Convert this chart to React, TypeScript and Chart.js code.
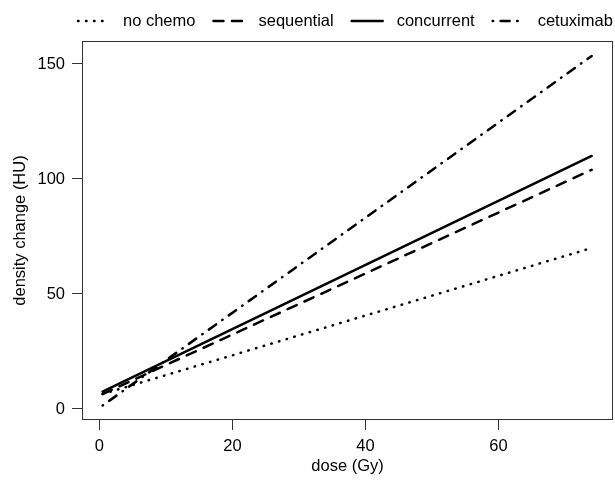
import React, { useEffect, useRef } from 'react';
import { Chart, registerables } from 'chart.js';

Chart.register(...registerables);

// ---- data ----
const dose = [0.5, 74];
const noChemo = [6.5, 70];
const sequential = [6.5, 104];
const concurrent = [7.5, 110];
const cetuximab = [1.5, 153.5];
const seriesNames = ['no chemo', 'sequential', 'concurrent', 'cetuximab'];
const xTicks = [0, 20, 40, 60];
const yTicks = [0, 50, 100, 150];

const FONT = '"Liberation Sans", Arial, Helvetica, sans-serif';
const FONT_SIZE = 16.5;

const toPoints = (ys: number[]) => ys.map((y, i) => ({ x: dose[i], y }));

const boxPlugin = {
  id: 'rbox',
  afterDraw(chart: any) {
    const { ctx, chartArea: a } = chart;
    ctx.save();
    ctx.strokeStyle = '#333';
    ctx.lineWidth = 1;
    ctx.setLineDash([]);
    const l = Math.round(a.left) + 0.5;
    const t = Math.round(a.top) + 0.5;
    const r = Math.round(a.right) - 0.5;
    const b = Math.round(a.bottom) - 0.5;
    ctx.strokeRect(l, t, r - l, b - t);
    ctx.restore();
  },
};

const legendPlugin = {
  id: 'rlegend',
  afterDraw(chart: any, _args: any, opts: any) {
    const ctx = chart.ctx;
    ctx.save();
    ctx.font = `${FONT_SIZE}px ${FONT}`;
    ctx.textBaseline = 'middle';
    ctx.textAlign = 'left';
    ctx.fillStyle = '#000';
    let x = opts.x;
    const y = opts.y;
    chart.data.datasets.forEach((ds: any) => {
      ctx.beginPath();
      ctx.setLineDash(ds.borderDash || []);
      ctx.lineWidth = ds.borderWidth;
      ctx.lineCap = ds.borderCapStyle || 'butt';
      ctx.strokeStyle = ds.borderColor;
      ctx.moveTo(x + 1, y);
      ctx.lineTo(x + opts.sampleWidth - 1, y);
      ctx.stroke();
      ctx.setLineDash([]);
      x += opts.sampleWidth + opts.textGap;
      ctx.fillText(ds.label, x, y);
      x += ctx.measureText(ds.label).width + opts.itemGap;
    });
    ctx.restore();
  },
};

export default function App() {
  const ref = useRef<HTMLCanvasElement | null>(null);

  useEffect(() => {
    if (!ref.current) return;
    const lineBase = {
      borderColor: '#000',
      borderWidth: 2.5,
      borderCapStyle: 'round',
      pointRadius: 0,
      pointHoverRadius: 0,
      fill: false,
      tension: 0,
    };
    const chart = new Chart(ref.current, {
      type: 'line',
      data: {
        datasets: [
          { ...lineBase, label: seriesNames[0], data: toPoints(noChemo), borderDash: [0.5, 7.5] },
          { ...lineBase, label: seriesNames[1], data: toPoints(sequential), borderDash: [10, 8.5] },
          { ...lineBase, label: seriesNames[2], data: toPoints(concurrent), borderDash: [] },
          { ...lineBase, label: seriesNames[3], data: toPoints(cetuximab), borderDash: [0.5, 7.5, 9, 7.5] },
        ] as any,
      },
      options: {
        animation: false,
        responsive: false,
        maintainAspectRatio: false,
        layout: { padding: { left: 0, top: 41, right: 2, bottom: 0 } },
        plugins: {
          legend: { display: false },
          tooltip: { enabled: false },
          rlegend: { x: 77, y: 21, sampleWidth: 33, textGap: 13, itemGap: 17 },
        } as any,
        scales: {
          x: {
            type: 'linear',
            min: -2.6,
            max: 77.2,
            afterBuildTicks: (s: any) => { s.ticks = xTicks.map((v) => ({ value: v })); },
            afterFit: (s: any) => { s.height = 67; },
            grid: { drawOnChartArea: false, drawTicks: true, tickLength: 10, color: '#333', lineWidth: 1 },
            border: { display: false },
            ticks: { color: '#000', padding: 7, maxRotation: 0, font: { family: FONT, size: FONT_SIZE } },
            title: {
              display: true,
              text: 'dose (Gy)',
              color: '#000',
              font: { family: FONT, size: FONT_SIZE },
              padding: { top: 0, bottom: 11 },
            },
          },
          y: {
            type: 'linear',
            min: -4.8,
            max: 160,
            afterBuildTicks: (s: any) => { s.ticks = yTicks.map((v) => ({ value: v })); },
            afterFit: (s: any) => { s.width = 82; },
            grid: { drawOnChartArea: false, drawTicks: true, tickLength: 10, color: '#333', lineWidth: 1 },
            border: { display: false },
            ticks: { color: '#000', padding: 7, font: { family: FONT, size: FONT_SIZE } },
            title: {
              display: true,
              text: 'density change (HU)',
              color: '#000',
              font: { family: FONT, size: FONT_SIZE },
              padding: { top: 11, bottom: 0 },
            },
          },
        },
      } as any,
      plugins: [boxPlugin, legendPlugin],
    });
    return () => chart.destroy();
  }, []);

  return (
    <div style={{ position: 'fixed', left: 0, top: 0, width: 615, height: 487, background: '#fff' }}>
      <canvas ref={ref} width={615} height={487} style={{ width: 615, height: 487, display: 'block' }} />
    </div>
  );
}
